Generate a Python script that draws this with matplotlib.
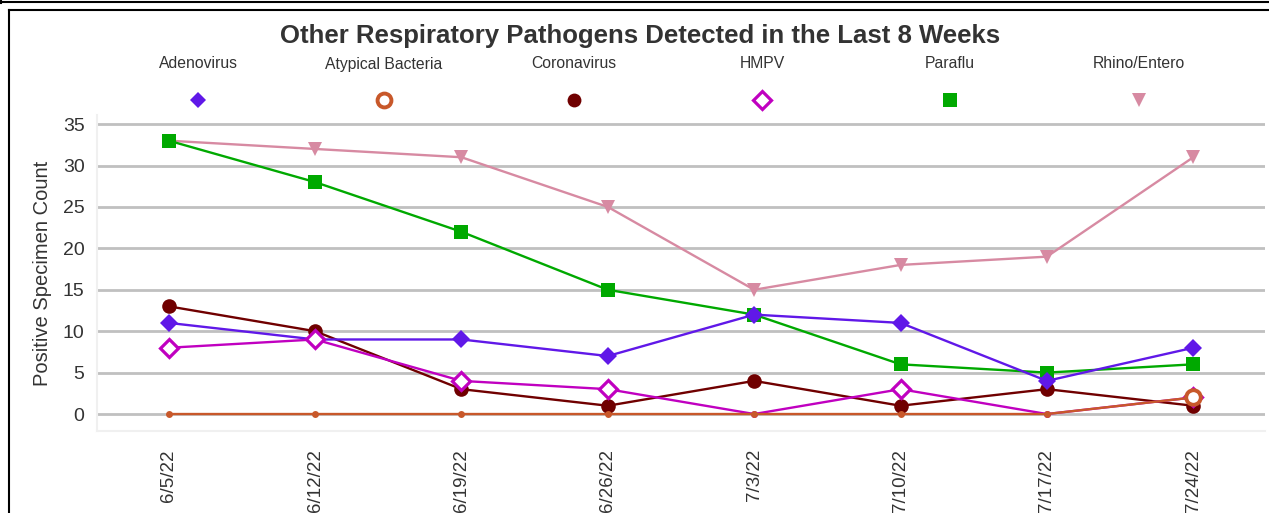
import matplotlib
matplotlib.use("Agg")
import matplotlib.pyplot as plt
from matplotlib.lines import Line2D

plt.rcParams['font.family'] = ['Liberation Sans', 'DejaVu Sans']

weeks = ["6/5/22", "6/12/22", "6/19/22", "6/26/22", "7/3/22", "7/10/22", "7/17/22", "7/24/22"]
adenovirus = [11, 9, 9, 7, 12, 11, 4, 8]
atypical_bacteria = [0, 0, 0, 0, 0, 0, 0, 2]
coronavirus = [13, 10, 3, 1, 4, 1, 3, 1]
hmpv = [8, 9, 4, 3, 0, 3, 0, 2]
paraflu = [33, 28, 22, 15, 12, 6, 5, 6]
rhino_entero = [33, 32, 31, 25, 15, 18, 19, 31]
series_names = ["Adenovirus", "Atypical Bacteria", "Coronavirus", "HMPV", "Paraflu", "Rhino/Entero"]
series_values = [adenovirus, atypical_bacteria, coronavirus, hmpv, paraflu, rhino_entero]
y_ticks = [0, 5, 10, 15, 20, 25, 30, 35]

styles = [
    dict(color="#6018E8", marker="D", ms=9, mfc="#6018E8", mew=0),
    dict(color="#C8582A", marker="o", ms=10.5, mfc="white", mew=2.8),
    dict(color="#700000", marker="o", ms=10.5, mfc="#700000", mew=0),
    dict(color="#C000C0", marker="D", ms=9.5, mfc="white", mew=2.3),
    dict(color="#00A900", marker="s", ms=10.5, mfc="#00A900", mew=0),
    dict(color="#D78AA2", marker="v", ms=10.5, mfc="#D78AA2", mew=0),
]
zorders = [5, 7, 4, 6, 3, 2]

fig = plt.figure(figsize=(12.69, 5.13), dpi=100)
ax = fig.add_axes([97/1269, 1-431/513, (1265-97)/1269, (431-115)/513])

x = list(range(len(weeks)))
for name, vals, st, zo in zip(series_names, series_values, styles, zorders):
    c = st["color"]
    ax.plot(x, vals, color=c, lw=1.7, zorder=zo)
    nz = [i for i, v in enumerate(vals) if v != 0]
    z = [i for i, v in enumerate(vals) if v == 0]
    ax.plot([x[i] for i in nz], [vals[i] for i in nz], ls="none", marker=st["marker"],
            ms=st["ms"], mfc=st["mfc"], mec=c, mew=st["mew"], zorder=zo + 0.5)
    ax.plot([x[i] for i in z], [vals[i] for i in z], ls="none", marker="o",
            ms=5, mfc=c, mec=c, mew=0, zorder=zo + 0.5)

ax.set_xlim(-0.49, 7.49)
ax.set_ylim(-2.05, 36.1)
ax.set_yticks(y_ticks)
ax.set_xticks(x)
ax.set_xticklabels(weeks, rotation=90)
ax.yaxis.grid(True, color="#C0C0C0", lw=2)
ax.set_axisbelow(True)
for side in ["top", "right"]:
    ax.spines[side].set_visible(False)
for side in ["left", "bottom"]:
    ax.spines[side].set_color("#F0F0F0")
    ax.spines[side].set_linewidth(1.5)
ax.tick_params(axis="both", length=0, colors="#333333")
ax.tick_params(axis="x", pad=13, labelsize=13.5)
ax.tick_params(axis="y", pad=9, labelsize=14)
ax.set_ylabel("Positive Specimen Count", fontsize=14.5, color="#333333", labelpad=8)

fig.text(640/1269, 1-36/513, "Other Respiratory Pathogens Detected in the Last 8 Weeks",
         ha="center", va="center", fontsize=18.5, fontweight="bold", color="#333333")

leg_x = [198, 384, 574, 762, 950, 1139]
for name, st, lx in zip(series_names, styles, leg_x):
    fig.text(lx/1269, 1-64/513, name, ha="center", va="center", fontsize=11.3, color="#333333")
    fig.add_artist(Line2D([lx/1269], [1-100/513], transform=fig.transFigure, ls="none",
                          marker=st["marker"], ms=st["ms"] * 0.95,
                          mfc=st["mfc"], mec=st["color"], mew=st["mew"]))

# frame borders
fig.add_artist(Line2D([0, 1], [1-1.5/513, 1-1.5/513], transform=fig.transFigure, color="black", lw=1.5))
fig.add_artist(Line2D([0.5/1269, 0.5/1269], [1, 1-3/513], transform=fig.transFigure, color="black", lw=1.5))
fig.add_artist(Line2D([8.5/1269, 1], [1-9.5/513, 1-9.5/513], transform=fig.transFigure, color="black", lw=1.5))
fig.add_artist(Line2D([8.5/1269, 8.5/1269], [1-9.5/513, 0], transform=fig.transFigure, color="black", lw=1.5))

fig.savefig("out.png", dpi=100)
